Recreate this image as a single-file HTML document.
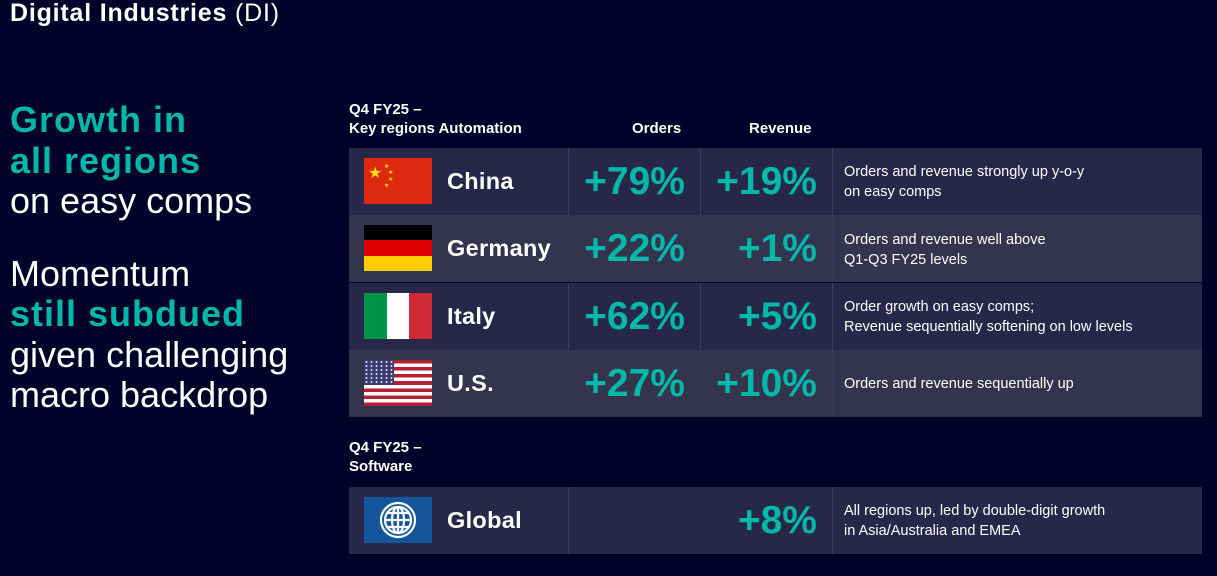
<!DOCTYPE html><html><head><meta charset="utf-8"><style>
body{margin:0;width:1217px;height:576px;background:#000028;font-family:"Liberation Sans",sans-serif;color:#fff;position:relative;overflow:hidden}
.a{position:absolute;white-space:nowrap}
.t{color:#00b8aa;font-weight:bold;letter-spacing:1px}
.big{font-size:36px;line-height:41px}
.row{position:absolute;left:349px;width:853px;height:67px}
.d{background:#27274a}.l{background:#34344f}
.cell{position:absolute;top:0;height:100%;border-left:1px solid #3d3d5c}
.name{position:absolute;left:98px;top:0;line-height:67px;font-size:23.5px;font-weight:bold;letter-spacing:0.3px}
.num{position:absolute;top:0;line-height:67px;font-size:39px;font-weight:bold;color:#00b8aa;text-align:right}
.desc{position:absolute;left:495px;font-size:14.5px;line-height:20px;color:#fff}
.flag{position:absolute;left:15px;top:10px;width:68px;height:46px;overflow:hidden}
.hd{font-size:15px;font-weight:bold;line-height:19px}
</style></head><body>
<div class="a" style="left:10px;top:-1px;font-size:25px;letter-spacing:0.8px"><b>Digital Industries</b> (DI)</div>
<div class="a big t" style="left:10px;top:99px">Growth in</div>
<div class="a big t" style="left:10px;top:140px">all regions</div>
<div class="a big" style="left:10px;top:180px">on easy comps</div>
<div class="a big" style="left:10px;top:253px">Momentum</div>
<div class="a big t" style="left:10px;top:293px">still subdued</div>
<div class="a big" style="left:10px;top:334px">given challenging</div>
<div class="a big" style="left:10px;top:374px">macro backdrop</div>

<div class="a hd" style="left:349px;top:100px">Q4 FY25 –<br>Key regions Automation</div>
<div class="a hd" style="left:632px;top:119px">Orders</div>
<div class="a hd" style="left:749px;top:119px">Revenue</div>

<div class="row d" style="top:148px">
<div class="flag" style="background:#de2910"><svg width="68" height="46"><text x="4" y="20" font-size="16" fill="#ffde00">★</text><text x="20" y="10" font-size="6" fill="#ffde00">★</text><text x="24" y="16" font-size="6" fill="#ffde00">★</text><text x="24" y="23" font-size="6" fill="#ffde00">★</text><text x="20" y="29" font-size="6" fill="#ffde00">★</text></svg></div>
<div class="name">China</div><div class="cell" style="left:219px"></div><div class="cell" style="left:351px"></div><div class="cell" style="left:483px"></div>
<div class="num" style="left:200px;width:136px">+79%</div><div class="num" style="left:330px;width:138px">+19%</div>
<div class="desc" style="top:14px">Orders and revenue strongly up y-o-y<br>on easy comps</div></div>

<div class="row l" style="top:215px">
<div class="flag"><div style="height:15px;background:#000"></div><div style="height:16px;background:#dd0000"></div><div style="height:15px;background:#ffce00"></div></div>
<div class="name">Germany</div><div class="cell" style="left:483px"></div>
<div class="num" style="left:200px;width:136px">+22%</div><div class="num" style="left:330px;width:138px">+1%</div>
<div class="desc" style="top:15px">Orders and revenue well above<br>Q1-Q3 FY25 levels</div></div>

<div class="row d" style="top:283px">
<div class="flag" style="display:flex"><div style="flex:1;background:#009246"></div><div style="flex:1;background:#fff"></div><div style="flex:1;background:#ce2b37"></div></div>
<div class="name">Italy</div><div class="cell" style="left:219px"></div><div class="cell" style="left:351px"></div><div class="cell" style="left:483px"></div>
<div class="num" style="left:200px;width:136px">+62%</div><div class="num" style="left:330px;width:138px">+5%</div>
<div class="desc" style="top:14px">Order growth on easy comps;<br>Revenue sequentially softening on low levels</div></div>

<div class="row l" style="top:350px">
<div class="flag" style="background:repeating-linear-gradient(#b22234 0 3.54px,#fff 3.54px 7.08px)"><div style="width:30px;height:25px;background:#3c3b6e;background-image:radial-gradient(#fff 0.9px,transparent 1.1px);background-size:5px 4px"></div></div>
<div class="name">U.S.</div><div class="cell" style="left:483px"></div>
<div class="num" style="left:200px;width:136px">+27%</div><div class="num" style="left:330px;width:138px">+10%</div>
<div class="desc" style="top:24px">Orders and revenue sequentially up</div></div>

<div class="a hd" style="left:349px;top:438px">Q4 FY25 –<br>Software</div>

<div class="row d" style="top:487px">
<div class="flag" style="background:#16559a"><svg width="68" height="46" viewBox="0 0 68 46"><g fill="none" stroke="#fff" stroke-width="2.2"><circle cx="34" cy="23" r="17"/><circle cx="34" cy="23" r="13"/><ellipse cx="34" cy="23" rx="6" ry="13"/><line x1="34" y1="10" x2="34" y2="36"/><line x1="21" y1="23" x2="47" y2="23"/><line x1="23" y1="16" x2="45" y2="16"/><line x1="23" y1="30" x2="45" y2="30"/></g></svg></div>
<div class="name">Global</div><div class="cell" style="left:219px"></div><div class="cell" style="left:483px"></div>
<div class="num" style="left:330px;width:138px">+8%</div>
<div class="desc" style="top:14px">All regions up, led by double-digit growth<br>in Asia/Australia and EMEA</div></div>
</body></html>
